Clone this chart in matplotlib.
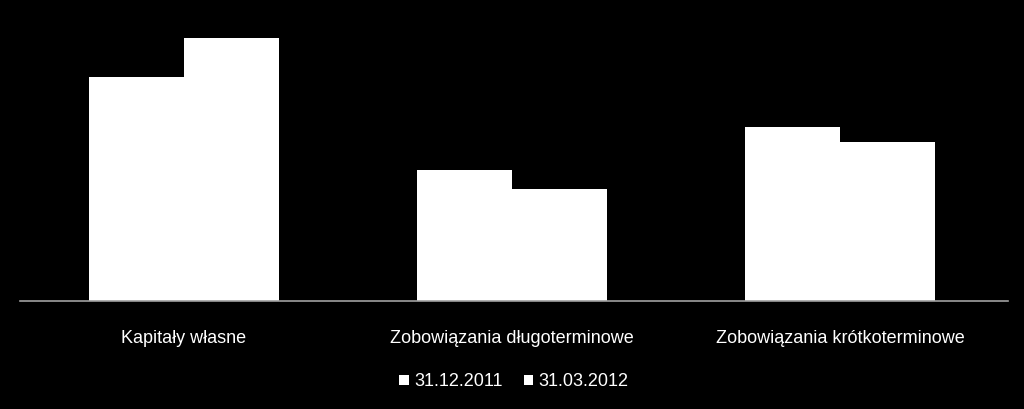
import matplotlib
matplotlib.use("Agg")
import matplotlib.pyplot as plt
import numpy as np

categories = ["Kapitały własne", "Zobowiązania długoterminowe", "Zobowiązania krótkoterminowe"]
series_names = ["31.12.2011", "31.03.2012"]
values_2011 = [224, 131, 174]
values_2012 = [263, 112, 159]

plt.rcParams['font.family'] = ['Liberation Sans Narrow', 'Liberation Sans', 'DejaVu Sans']

fig = plt.figure(figsize=(10.24, 4.09), dpi=100, facecolor='black')
# axes in pixel terms: x 20..1008, baseline y=301, top y=20
ax = fig.add_axes([20 / 1024, (409 - 301) / 409, 988 / 1024, 281 / 409])
ax.set_facecolor('black')

x = np.arange(len(categories))
w = 95 / 328
ax.bar(x - w / 2, values_2011, w, color='white', label=series_names[0])
ax.bar(x + w / 2, values_2012, w, color='white', label=series_names[1])

ax.set_xlim((20 - 184) / 328, (1008 - 184) / 328)
ax.set_ylim(0, 281)

for s in ['top', 'right', 'left']:
    ax.spines[s].set_visible(False)
ax.spines['bottom'].set_color('#a0a0a0')
ax.spines['bottom'].set_linewidth(1.2)
ax.set_yticks([])
ax.set_xticks(x)
ax.set_xticklabels(categories, color='white', fontsize=13)
ax.tick_params(axis='x', length=0, pad=21)

leg = ax.legend(loc='upper center', bbox_to_anchor=(0.5, -0.2), ncol=2, frameon=False,
                fontsize=13, handlelength=0.5, handleheight=0.5, handletextpad=0.3,
                columnspacing=1.2, labelcolor='white')

fig.savefig('out.png', dpi=100, facecolor='black')
